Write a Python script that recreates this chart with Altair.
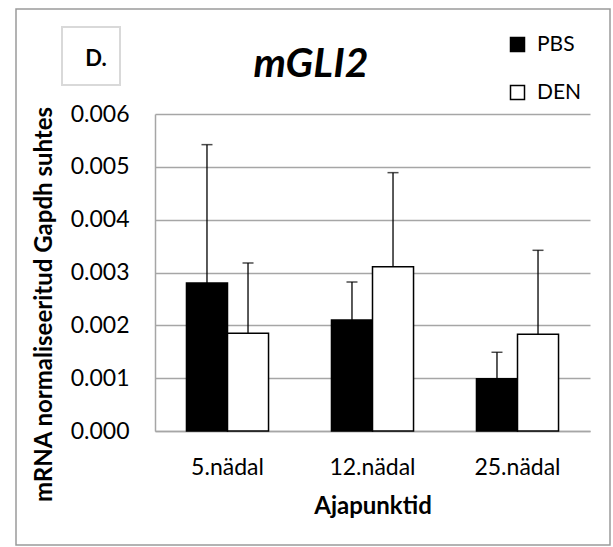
import altair as alt
import pandas as pd

categories = ["5.nädal", "12.nädal", "25.nädal"]
groups = ["PBS", "DEN"]
pbs_values = [0.00280, 0.00210, 0.00099]
pbs_upper = [0.00542, 0.00282, 0.00149]
den_values = [0.00185, 0.00311, 0.00183]
den_upper = [0.00318, 0.00489, 0.00342]
y_ticks = [0.0, 0.001, 0.002, 0.003, 0.004, 0.005, 0.006]

rows = []
for i, c in enumerate(categories):
    rows.append({"aeg": c, "grupp": "PBS", "v": pbs_values[i], "up": pbs_upper[i]})
    rows.append({"aeg": c, "grupp": "DEN", "v": den_values[i], "up": den_upper[i]})
df = pd.DataFrame(rows)

FONT = "Lato"
W, H = 435, 317
L, T = 155, 114

x_enc = alt.X("aeg:N", sort=categories,
              scale=alt.Scale(paddingInner=0.434, paddingOuter=0.217),
              axis=alt.Axis(title="Ajapunktid", labelAngle=0, ticks=False, tickSize=0,
                            labelPadding=43, labelBaseline="alphabetic",
                            labelFontSize=23, labelFont=FONT, labelColor="#000000",
                            titleFont=FONT, titleFontSize=24, titleFontWeight="bold",
                            titleColor="#000000", titleX=217.5, titleY=82,
                            titleBaseline="alphabetic", titleAlign="center",
                            domainColor="#a6a6a6", domainWidth=1.5))
xo_enc = alt.XOffset("grupp:N", sort=groups, scale=alt.Scale(paddingInner=0, paddingOuter=0))
y_enc = alt.Y("v:Q", scale=alt.Scale(domain=[0, 0.006], nice=False),
              axis=alt.Axis(values=y_ticks, format=".3f", title="mRNA normaliseeritud Gapdh suhtes",
                            ticks=False, tickSize=0, labelPadding=26, labelFontSize=23,
                            labelFont=FONT, labelColor="#000000",
                            titleFont=FONT, titleFontSize=24, titleFontWeight="bold",
                            titleColor="#000000", titleX=-111, titleY=190,
                            titleAlign="center", titleBaseline="middle",
                            grid=True, gridColor="#a6a6a6", gridWidth=1.5,
                            domainColor="#a6a6a6", domainWidth=1.5))

bars = alt.Chart(df).mark_bar(stroke="black", strokeWidth=1.5).encode(
    x=x_enc, xOffset=xo_enc, y=y_enc,
    fill=alt.Fill("grupp:N", sort=groups,
                  scale=alt.Scale(domain=groups, range=["#000000", "#ffffff"]),
                  legend=alt.Legend(title=None, orient="none", legendX=352, legendY=-80,
                                    symbolType="square", symbolSize=196,
                                    symbolStrokeColor="black", symbolStrokeWidth=1.5,
                                    labelFont=FONT, labelFontSize=21, labelColor="#000000",
                                    labelOffset=9, rowPadding=26, symbolOpacity=1)),
)

err = alt.Chart(df).mark_rule(color="black", strokeWidth=1.3).encode(
    x=alt.X("aeg:N", sort=categories), xOffset=xo_enc,
    y=alt.Y("v:Q"), y2=alt.Y2("up:Q"),
)
caps = alt.Chart(df).mark_tick(color="black", thickness=1.5, size=11).encode(
    x=alt.X("aeg:N", sort=categories), xOffset=xo_enc,
    y=alt.Y("up:Q"),
)

one = pd.DataFrame({"k": [0]})
frame = alt.Chart(one).mark_rect(fillOpacity=0, stroke="#9a9a9a", strokeWidth=1.5).encode(
    x=alt.value(16 - L), x2=alt.value(610 - L), y=alt.value(9 - T), y2=alt.value(545 - T))
dbox = alt.Chart(one).mark_rect(fillOpacity=0, stroke="#d9d9d9", strokeWidth=2).encode(
    x=alt.value(62 - L), x2=alt.value(120 - L), y=alt.value(27 - T), y2=alt.value(85 - T))
dtext = alt.Chart(one).mark_text(text="D.", font=FONT, fontSize=22, fontWeight="bold",
                                 align="center", baseline="alphabetic", color="black").encode(
    x=alt.value(96 - L), y=alt.value(66 - T))
title = alt.Chart(one).mark_text(text="mGLI2", font=FONT, fontSize=41, fontWeight="bold",
                                 fontStyle="italic", align="center", baseline="alphabetic",
                                 color="black").encode(
    x=alt.value(311 - L), y=alt.value(77 - T))

chart = alt.layer(frame, dbox, dtext, title, bars, err, caps).properties(
    width=W, height=H,
    autosize=alt.AutoSizeParams(type="none"),
    padding={"left": L, "top": T, "right": 613 - L - W, "bottom": 547 - T - H},
    background="white",
).configure_view(stroke=None).resolve_scale(x="shared")

chart.save("out.html", embed_options={"renderer": "svg", "actions": False})
